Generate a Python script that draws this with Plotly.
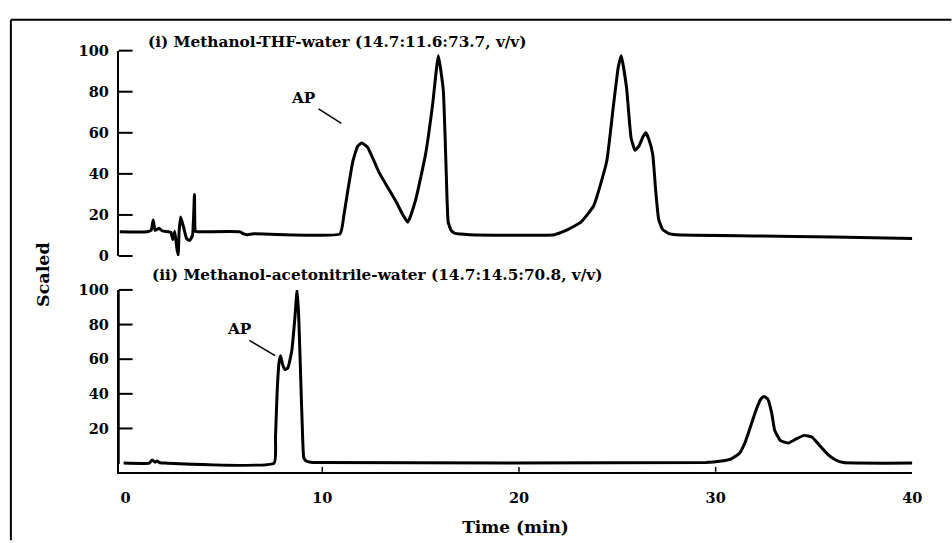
import plotly.graph_objects as go

# ---- data ----
time_i = [-0.3, 1.1, 1.3, 1.4, 1.5, 1.7, 1.85, 2.0, 2.3, 2.4, 2.5, 2.6, 2.67, 2.72, 2.8, 2.95, 3.1,
          3.25, 3.4, 3.5, 3.55, 3.65, 5.8, 6.0, 6.2, 6.5, 10.9, 11.1, 11.3, 11.55, 11.8, 12.0, 12.3,
          12.9, 13.75, 14.1, 14.35, 14.75, 15.25, 15.6, 15.9, 16.15, 16.35, 16.4, 16.55, 16.75,
          17.5, 21.8, 22.45, 23.15, 23.8, 24.46, 24.8, 25.05, 25.2, 25.47, 25.7, 25.9, 26.1, 26.3,
          26.45, 26.6, 26.8, 26.95, 27.1, 27.3, 27.6, 28.0, 32.0, 36.0, 40.0]
signal_i = [11.8, 11.8, 12.5, 17.5, 12.5, 13.5, 12.3, 12.0, 11.5, 8.0, 12.0, 4.0, 0.5, 12.0, 19.0, 14.0, 8.5,
            7.5, 10.0, 30.0, 12.0, 11.8, 11.8, 10.8, 10.4, 10.8, 10.8, 20.0, 32.0, 46.0, 53.5, 55.0, 53.0,
            40.5, 26.5, 20.0, 16.5, 27.5, 49.5, 73.0, 97.5, 81.0, 26.0, 16.5, 12.5, 11.0,
            10.4, 10.4, 12.7, 16.5, 24.5, 46.0, 73.0, 92.0, 97.5, 82.0, 57.5, 51.5, 53.5, 58.0,
            60.0, 57.0, 49.5, 32.0, 18.0, 13.0, 11.0, 10.3, 9.8, 9.3, 8.5]

time_ii = [-0.1, 1.2, 1.35, 1.5, 1.6, 1.75, 2.0, 7.55, 7.62, 7.7, 7.8, 7.88, 7.98, 8.1, 8.25, 8.45,
           8.6, 8.72, 8.8, 8.9, 9.0, 9.06, 9.2, 9.4, 9.8, 29.5, 30.2, 30.8, 31.2, 31.5, 31.8, 32.1,
           32.3, 32.46, 32.65, 32.85, 33.0, 33.3, 33.7, 34.1, 34.5, 34.9, 35.3, 35.7, 36.1, 36.5, 40.0]
signal_ii = [0.0, 0.0, 1.8, 0.5, 1.2, 0.2, 0.0, 0.0, 15.0, 40.0, 58.0, 62.0, 57.0, 54.0, 55.0, 65.0,
             83.0, 100.0, 85.0, 50.0, 15.0, 3.0, 1.0, 0.5, 0.3, 0.3, 1.0, 2.5, 5.5, 12.0, 22.0, 32.0,
             37.0, 38.5, 37.0, 29.0, 19.0, 13.0, 11.6, 14.0, 16.0, 15.0, 10.0, 5.0, 1.8, 0.3, 0.0]

x_ticks = [0, 10, 20, 30, 40]
x_tick_marks = [10, 20, 30]
y_ticks_i = [0, 20, 40, 60, 80, 100]
y_ticks_ii = [20, 40, 60, 80, 100]

title_i = "(i) Methanol-THF-water (14.7:11.6:73.7, v/v)"
title_ii = "(ii) Methanol-acetonitrile-water (14.7:14.5:70.8, v/v)"

# ---- layout geometry ----
W, H = 952, 543
X_RANGE = [-0.35, 40]
Y_RANGE_I = [0, 100]
Y_RANGE_II = [-5, 100]
XDOM = [120 / W, 922 / W]
YDOM_I = [1 - 255 / H, 1 - 43 / H]
YDOM_II = [1 - 477.7 / H, 1 - 290 / H]


def to_paper(v, rng, dom):
    """Position of axis value v on the paper, following the axis' range and domain."""
    return dom[0] + (v - rng[0]) / (rng[1] - rng[0]) * (dom[1] - dom[0])


FONT = "DejaVu Serif"
tickfont = dict(family=FONT, size=14.5, color="black", weight="bold")

fig = go.Figure()
# top panel: x / y ; bottom panel: x2 / y2
fig.add_trace(go.Scatter(x=time_i, y=signal_i, mode="lines", xaxis="x", yaxis="y",
                         line=dict(color="black", width=3, shape="spline", smoothing=0.4),
                         showlegend=False))
fig.add_trace(go.Scatter(x=time_ii, y=signal_ii, mode="lines", xaxis="x2", yaxis="y2",
                         line=dict(color="black", width=3, shape="spline", smoothing=0.4),
                         showlegend=False))

fig.update_layout(
    width=W, height=H,
    margin=dict(l=0, r=0, t=0, b=0),
    paper_bgcolor="white", plot_bgcolor="white",
    font=dict(family=FONT, color="black"),
    xaxis=dict(domain=XDOM, range=X_RANGE, anchor="y", showgrid=False, zeroline=False,
               showline=False, ticks="", showticklabels=False),
    yaxis=dict(domain=YDOM_I, range=Y_RANGE_I, anchor="x", showgrid=False, zeroline=False,
               showline=True, linecolor="black", linewidth=2,
               tickmode="array", tickvals=y_ticks_i, ticks="",
               tickfont=tickfont, ticklabelstandoff=5),
    xaxis2=dict(domain=XDOM, range=X_RANGE, anchor="y2", showgrid=False, zeroline=False,
                showline=True, linecolor="black", linewidth=2,
                tickmode="array", tickvals=x_ticks, ticks="",
                tickfont=tickfont, ticklabelstandoff=12,
                title=dict(text="Time (min)",
                           font=dict(family=FONT, size=17, color="black", weight="bold"),
                           standoff=16)),
    yaxis2=dict(domain=YDOM_II, range=Y_RANGE_II, anchor="x2", showgrid=False, zeroline=False,
                showline=True, linecolor="black", linewidth=2,
                tickmode="array", tickvals=y_ticks_ii, ticks="",
                tickfont=tickfont, ticklabelstandoff=5),
)

black2 = dict(color="black", width=2)
shapes = [
    # figure frame (top and left edges)
    dict(type="line", xref="paper", yref="paper", x0=11 / W, x1=1.01, y0=1 - 11 / H, y1=1 - 11 / H,
         line=black2),
    dict(type="line", xref="paper", yref="paper", x0=11 / W, x1=11 / W, y0=1 - 11 / H, y1=-0.01,
         line=black2),
    # lower panel y spine
    dict(type="line", xref="paper", yref="paper", x0=XDOM[0], x1=XDOM[0],
         y0=to_paper(-0.5, Y_RANGE_II, YDOM_II), y1=YDOM_II[1], line=black2),
    # AP leader lines
    dict(type="line", xref="x", yref="y", x0=9.81, y0=71.7, x1=10.97, y1=64.6,
         line=dict(color="black", width=1.5)),
    dict(type="line", xref="x2", yref="y2", x0=6.29, y0=70.9, x1=7.6, y1=62.0,
         line=dict(color="black", width=1.5)),
]
# inward tick marks at the axis tick values (14 px right of the spine, 5 px above the time axis)
for v in y_ticks_i:
    yp = to_paper(v, Y_RANGE_I, YDOM_I)
    shapes.append(dict(type="line", xref="paper", yref="paper", x0=XDOM[0], x1=XDOM[0] + 14 / W,
                       y0=yp, y1=yp, line=black2))
for v in y_ticks_ii:
    yp = to_paper(v, Y_RANGE_II, YDOM_II)
    shapes.append(dict(type="line", xref="paper", yref="paper", x0=XDOM[0], x1=XDOM[0] + 14 / W,
                       y0=yp, y1=yp, line=black2))
for v in x_tick_marks:
    xp = to_paper(v, X_RANGE, XDOM)
    shapes.append(dict(type="line", xref="paper", yref="paper", x0=xp, x1=xp,
                       y0=YDOM_II[0], y1=YDOM_II[0] + 5 / H, line=dict(color="black", width=1.5)))
fig.update_layout(shapes=shapes)

annfont = dict(family=FONT, size=15.3, color="black", weight="bold")
fig.update_layout(annotations=[
    dict(text=title_i, xref="paper", yref="paper", x=148 / W, y=1 - 34 / H,
         xanchor="left", yanchor="middle", showarrow=False, font=annfont),
    dict(text=title_ii, xref="paper", yref="paper", x=152 / W, y=1 - 275 / H,
         xanchor="left", yanchor="middle", showarrow=False, font=annfont),
    dict(text="AP", xref="x", yref="y", x=9.06, y=76.9, showarrow=False, font=annfont),
    dict(text="AP", xref="x2", yref="y2", x=5.79, y=77.6, showarrow=False, font=annfont),
    dict(text="Scaled", xref="paper", yref="paper", x=44 / W, y=1 - 274 / H, textangle=-90,
         xanchor="center", yanchor="middle",
         showarrow=False, font=dict(family=FONT, size=17.5, color="black", weight="bold")),
])

fig.write_html("out.html")
